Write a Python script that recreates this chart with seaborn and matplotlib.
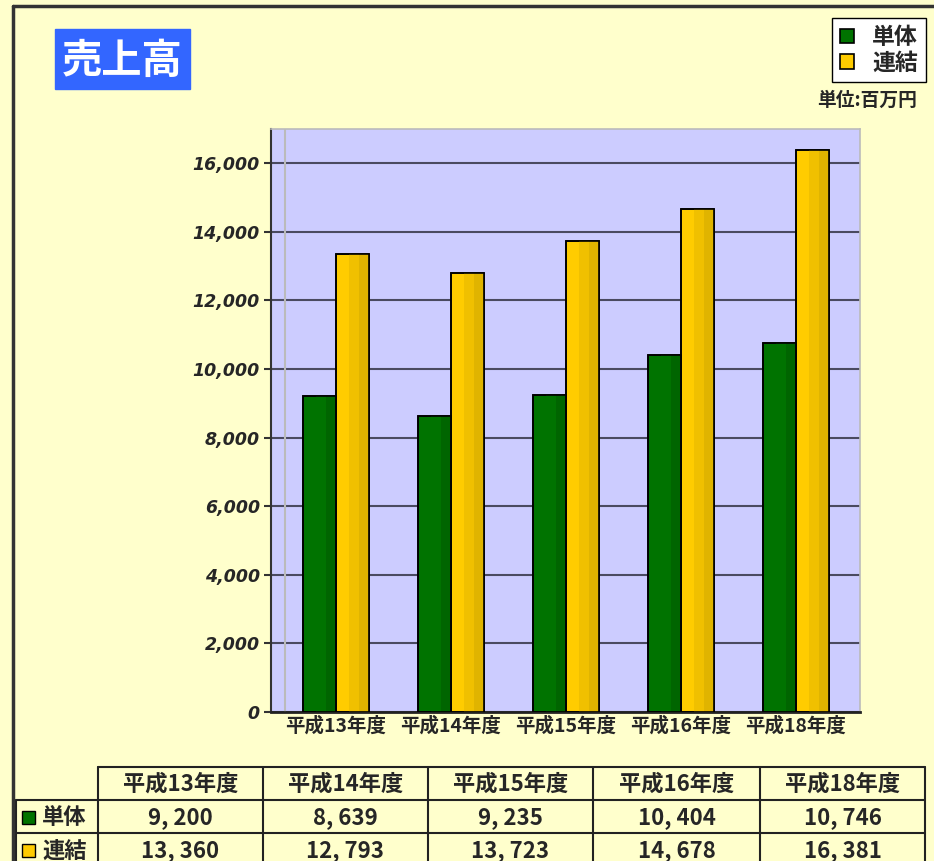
import pandas as pd
import matplotlib.pyplot as plt
import seaborn as sns
from matplotlib.patches import Rectangle
from matplotlib.lines import Line2D

# データ（単位：百万円）
years = ["平成13年度", "平成14年度", "平成15年度", "平成16年度", "平成18年度"]
series = ["単体", "連結"]
tantai = [9200, 8639, 9235, 10404, 10746]
renketsu = [13360, 12793, 13723, 14678, 16381]
yticks = [0, 2000, 4000, 6000, 8000, 10000, 12000, 14000, 16000]

colors = {"単体": "#007300", "連結": "#FFCC00"}
shades = {"単体": ["#007300", "#007300", "#006500"],
          "連結": ["#FFCC00", "#F0C000", "#E0B400"]}

df = pd.DataFrame({
    "年度": years * 2,
    "系列": ["単体"] * len(years) + ["連結"] * len(years),
    "売上高": tantai + renketsu,
})

sns.set_style("white")
plt.rcParams["font.family"] = ["Noto Sans CJK JP", "DejaVu Sans"]

W, H = 934, 861
fx = lambda px: px / W
fy = lambda py: 1 - py / H

fig = plt.figure(figsize=(9.34, 8.61), dpi=100, facecolor="#FFFFCC")

# グラフ本体
ax = fig.add_axes([fx(271), fy(712), (860 - 271) / W, (712 - 129) / H])
ax.set_facecolor("#CCCCFF")
sns.barplot(data=df, x="年度", y="売上高", hue="系列", palette=colors,
            width=0.574, saturation=1, edgecolor="black", linewidth=1.2,
            ax=ax, zorder=3)

# 立体風のグラデーション
for name, cont in zip(series, ax.containers):
    c1, c2, c3 = shades[name]
    for bar in cont:
        x, w, h = bar.get_x(), bar.get_width(), bar.get_height()
        ax.add_patch(Rectangle((x + 0.39 * w, 0), 0.32 * w, h, color=c2, lw=0, zorder=3.5))
        ax.add_patch(Rectangle((x + 0.71 * w, 0), 0.29 * w, h, color=c3, lw=0, zorder=3.5))
        ax.add_patch(Rectangle((x, 0), w, h, fill=False, edgecolor="black", lw=1.2, zorder=4))

ax.set_xlim(-0.565, 4.557)
ax.set_ylim(0, 17000)
ax.set_yticks(yticks)
ax.set_yticklabels([f"{v:,}" for v in yticks], family="DejaVu Sans",
                   fontstyle="italic", weight="bold", size=12.5)
ax.set_xticks(range(len(years)))
ax.set_xticklabels(years, weight="bold", size=14)
ax.set_xlabel("")
ax.set_ylabel("")
ax.yaxis.grid(True, color="#4a4a60", lw=1.5)
ax.set_axisbelow(True)
ax.tick_params(axis="y", length=5, width=1.5, color="#333333", pad=3, left=True)
ax.tick_params(axis="x", length=0, pad=3)
ax.plot([0.024, 0.024], [0, 1], transform=ax.transAxes, color="#BBBBBB", lw=1.5, zorder=1)
for side in ["top", "right"]:
    ax.spines[side].set_color("#BBBBBB")
    ax.spines[side].set_linewidth(1.2)
ax.spines["left"].set_color("#333333")
ax.spines["left"].set_linewidth(1.5)
ax.spines["bottom"].set_color("#222222")
ax.spines["bottom"].set_linewidth(2)

sns.move_legend(ax, "upper right", bbox_to_anchor=(fx(926), fy(18)),
                bbox_transform=fig.transFigure, title=None, frameon=True,
                prop=dict(weight="bold", size=16.5), handlelength=0.6,
                handleheight=0.6, handletextpad=0.8, labelspacing=0.1,
                borderpad=0.35, borderaxespad=0, fancybox=False,
                edgecolor="black", facecolor="white", framealpha=1)
ax.get_legend().get_frame().set_linewidth(1.0)

# タイトル
fig.add_artist(Rectangle((fx(55), fy(89)), 135 / W, 60 / H,
                         transform=fig.transFigure, color="#3366FF"))
fig.text(fx(122), fy(61), "売上高", color="white", size=29, weight="bold",
         ha="center", va="center")
fig.text(fx(917), fy(100), "単位:百万円", size=13.5, weight="bold",
         ha="right", va="center")

# 外枠
fig.add_artist(Line2D([fx(13), 1], [fy(6), fy(6)], transform=fig.transFigure,
                      color="#333333", lw=2.5))
fig.add_artist(Line2D([fx(13), fx(13)], [fy(6), 0], transform=fig.transFigure,
                      color="#333333", lw=2.5))

# データ表
tax = fig.add_axes([0, 0, 1, 1], facecolor="none")
tax.set_xlim(0, W)
tax.set_ylim(H, 0)
tax.axis("off")
col_edges = [16, 98, 263, 428, 593, 760, 925]
row_edges = [767, 800, 833, 870]
lk = dict(color="#222222", lw=1.5)
tax.plot([col_edges[1], col_edges[-1]], [row_edges[0]] * 2, **lk)
for yy in row_edges[1:3]:
    tax.plot([col_edges[0], col_edges[-1]], [yy, yy], **lk)
tax.plot([col_edges[0]] * 2, [row_edges[1], row_edges[-1]], **lk)
for xx in col_edges[1:]:
    tax.plot([xx, xx], [row_edges[0], row_edges[-1]], **lk)

for i, yr in enumerate(years):
    cx = (col_edges[i + 1] + col_edges[i + 2]) / 2
    tax.text(cx, 784, yr, ha="center", va="center", size=16, weight="bold")
    for r, vals in enumerate([tantai, renketsu]):
        tax.text(cx, 818 + r * 33, f"{vals[i]:,}".replace(",", ", "),
                 ha="center", va="center", size=16, weight="bold")

for r, name in enumerate(series):
    cy = 818 + r * 33
    tax.add_patch(Rectangle((22, cy - 7), 13, 13, facecolor=colors[name],
                            edgecolor="black", lw=1))
    tax.text(42, cy, name, ha="left", va="center", size=16, weight="bold")

fig.savefig("out.png", dpi=100, facecolor=fig.get_facecolor())
